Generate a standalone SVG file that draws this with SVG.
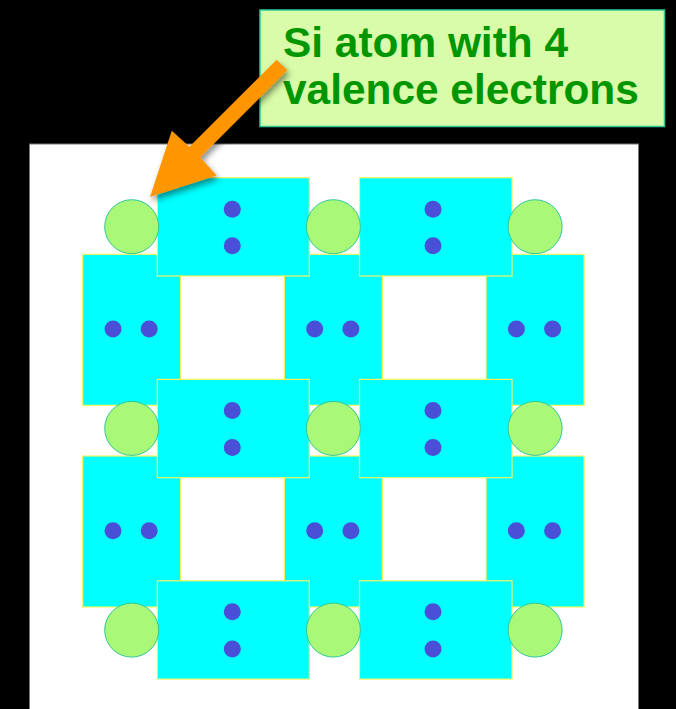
<svg xmlns="http://www.w3.org/2000/svg" width="676" height="709" viewBox="0 0 676 709">
<style>
.bond{fill:#00ffff;stroke:#f5f55a;stroke-width:1.2}
.atom{fill:#a9f877;stroke:#2fc79a;stroke-width:1}
.e{fill:#4a4fd8}
.lbl{font-family:"Liberation Sans",Arial,sans-serif;font-weight:bold;font-size:42.4px;fill:#009600}
</style>
<defs>
<filter id="sh" x="-30%" y="-30%" width="160%" height="160%">
<feDropShadow dx="2" dy="4" stdDeviation="3" flood-color="#000" flood-opacity="0.45"/>
</filter>
</defs>
<rect x="0" y="0" width="676" height="709" fill="#000"/>
<rect x="29.5" y="144" width="609" height="566" fill="#fff" stroke="#777" stroke-width="1"/>

<g id="vertical-bonds">
<g id="vb-0-0"><rect class="bond" x="82.7" y="254.3" width="98" height="151"/><circle class="e" cx="113" cy="329" r="8.5"/><circle class="e" cx="149.2" cy="329" r="8.5"/></g>
<g id="vb-0-1"><rect class="bond" x="284.4" y="254.3" width="98" height="151"/><circle class="e" cx="314.7" cy="329" r="8.5"/><circle class="e" cx="350.9" cy="329" r="8.5"/></g>
<g id="vb-0-2"><rect class="bond" x="486.1" y="254.3" width="98" height="151"/><circle class="e" cx="516.4" cy="329" r="8.5"/><circle class="e" cx="552.6" cy="329" r="8.5"/></g>
<g id="vb-1-0"><rect class="bond" x="82.7" y="456" width="98" height="151"/><circle class="e" cx="113" cy="530.7" r="8.5"/><circle class="e" cx="149.2" cy="530.7" r="8.5"/></g>
<g id="vb-1-1"><rect class="bond" x="284.4" y="456" width="98" height="151"/><circle class="e" cx="314.7" cy="530.7" r="8.5"/><circle class="e" cx="350.9" cy="530.7" r="8.5"/></g>
<g id="vb-1-2"><rect class="bond" x="486.1" y="456" width="98" height="151"/><circle class="e" cx="516.4" cy="530.7" r="8.5"/><circle class="e" cx="552.6" cy="530.7" r="8.5"/></g>
</g>

<g id="horizontal-bonds">
<g id="hb-0-0"><rect class="bond" x="157.3" y="177.7" width="152" height="98.3"/><circle class="e" cx="232.3" cy="209.3" r="8.5"/><circle class="e" cx="232.3" cy="245.7" r="8.5"/></g>
<g id="hb-0-1"><rect class="bond" x="359.5" y="177.7" width="152.5" height="98.3"/><circle class="e" cx="433" cy="209.3" r="8.5"/><circle class="e" cx="433" cy="245.7" r="8.5"/></g>
<g id="hb-1-0"><rect class="bond" x="157.3" y="379.4" width="152" height="98.3"/><circle class="e" cx="232.3" cy="410.5" r="8.5"/><circle class="e" cx="232.3" cy="447.4" r="8.5"/></g>
<g id="hb-1-1"><rect class="bond" x="359.5" y="379.4" width="152.5" height="98.3"/><circle class="e" cx="433" cy="410.5" r="8.5"/><circle class="e" cx="433" cy="447.4" r="8.5"/></g>
<g id="hb-2-0"><rect class="bond" x="157.3" y="580.8" width="152" height="98.3"/><circle class="e" cx="232.3" cy="611.7" r="8.5"/><circle class="e" cx="232.3" cy="649" r="8.5"/></g>
<g id="hb-2-1"><rect class="bond" x="359.5" y="580.8" width="152.5" height="98.3"/><circle class="e" cx="433" cy="611.7" r="8.5"/><circle class="e" cx="433" cy="649" r="8.5"/></g>
</g>

<g id="atoms">
<g id="atom-0-0"><circle class="atom" cx="131.7" cy="226.7" r="27"/></g>
<g id="atom-0-1"><circle class="atom" cx="333.4" cy="226.7" r="27"/></g>
<g id="atom-0-2"><circle class="atom" cx="535.1" cy="226.7" r="27"/></g>
<g id="atom-1-0"><circle class="atom" cx="131.7" cy="428.4" r="27"/></g>
<g id="atom-1-1"><circle class="atom" cx="333.4" cy="428.4" r="27"/></g>
<g id="atom-1-2"><circle class="atom" cx="535.1" cy="428.4" r="27"/></g>
<g id="atom-2-0"><circle class="atom" cx="131.7" cy="630.1" r="27"/></g>
<g id="atom-2-1"><circle class="atom" cx="333.4" cy="630.1" r="27"/></g>
<g id="atom-2-2"><circle class="atom" cx="535.1" cy="630.1" r="27"/></g>
</g>

<g id="label">
<rect x="260" y="10" width="404.5" height="116.5" fill="#d8fca9" stroke="#2fc79a" stroke-width="1.5"/>
<text class="lbl" x="283" y="57">Si atom with 4</text>
<text class="lbl" x="283" y="103.5">valence electrons</text>
</g>

<g id="connectors">
<polygon points="150,197 216.7,175.5 200.3,157.2 287.3,70.3 276.7,59.7 189.4,146.8 171.8,130.7" fill="#ff9600" filter="url(#sh)"/>
</g>
</svg>
